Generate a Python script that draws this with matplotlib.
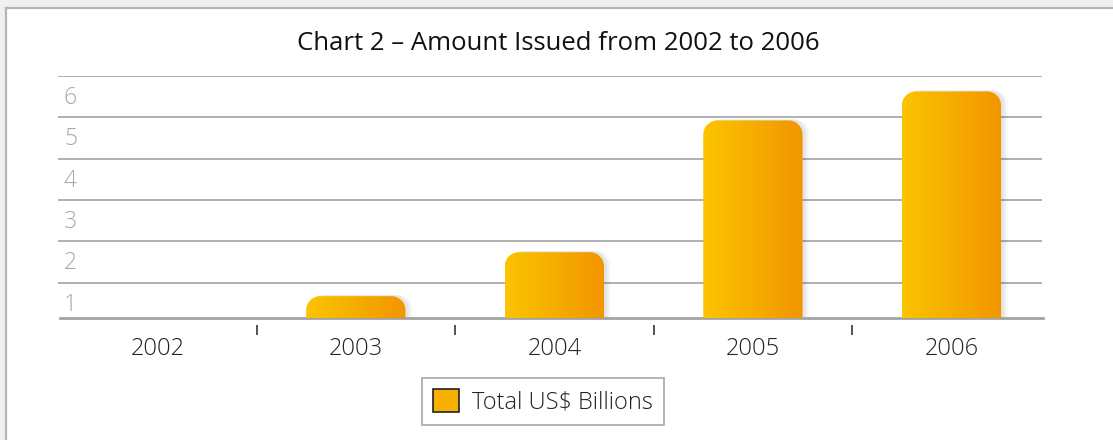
import numpy as np
import matplotlib
matplotlib.use("Agg")
import matplotlib.pyplot as plt
from matplotlib.path import Path
from matplotlib.patches import PathPatch, Rectangle, Patch
from matplotlib.lines import Line2D
import matplotlib.transforms as mtransforms

# data
years = ["2002", "2003", "2004", "2005", "2006"]
amounts = [0.0, 0.68, 1.74, 4.92, 5.62]
y_ticks = [1, 2, 3, 4, 5, 6]
title = "Chart 2 \u2013 Amount Issued from 2002 to 2006"
legend_label = "Total US$ Billions"

plt.rcParams['font.family'] = ['Open Sans', 'DejaVu Sans']

fig = plt.figure(figsize=(11.13, 4.40), dpi=100)
fig.patch.set_facecolor('white')

# page frame (light grey bands + border line)
fig.add_artist(Rectangle((0, 1 - 7 / 440), 1, 7 / 440, transform=fig.transFigure,
                         color='#eff1f1', lw=0))
fig.add_artist(Rectangle((0, 0), 5 / 1113, 1, transform=fig.transFigure,
                         color='#eff1f1', lw=0))
fig.add_artist(Line2D([5.5 / 1113, 1], [1 - 8 / 440, 1 - 8 / 440], transform=fig.transFigure,
                      color='#b4b4b4', lw=1.6))
fig.add_artist(Line2D([5.5 / 1113, 5.5 / 1113], [0, 1 - 8 / 440], transform=fig.transFigure,
                      color='#b4b4b4', lw=1.6))

ax = fig.add_axes([58 / 1113, 122.3 / 440, 984 / 1113, 242 / 440])
x = np.arange(len(years))
ax.set_xlim(-0.5, 4.456)
ax.set_ylim(0.16, 6.0)

for s in ['top', 'right', 'left']:
    ax.spines[s].set_visible(False)
ax.spines['bottom'].set_color('#a3a3a3')
ax.spines['bottom'].set_linewidth(2)
ax.spines['bottom'].set_bounds(-0.49, 4.46)

# gridlines at the value ticks, labels sit just below each line
ax.set_yticks(y_ticks)
ax.set_yticklabels([])
ax.tick_params(axis='y', length=0)
ax.grid(axis='y', color='#b0b0b0', lw=1.4)
ax.set_axisbelow(True)
ylab = mtransforms.blended_transform_factory(ax.transAxes, ax.transData)
for t in y_ticks:
    ax.text(0.006, t - 0.53, str(t), transform=ylab, ha='left', va='center',
            fontsize=16.5, color='#a8a8a8', fontweight='light')

# x ticks: labels at centres, small marks between categories
ax.set_xticks(x)
ax.set_xticklabels(years, fontsize=17, color='#222222', fontweight='light')
ax.tick_params(axis='x', which='major', length=0, pad=14)
ax.set_xticks(x[:-1] + 0.5, minor=True)
ax.tick_params(axis='x', which='minor', length=7, width=1.3, color='#444444',
                direction='out', pad=0)
for tl in ax.xaxis.get_minorticklines():
    tl.set_transform(tl.get_transform() + mtransforms.ScaledTranslation(0, -7 / 100, fig.dpi_scale_trans))

bars = ax.bar(x, amounts, width=0.5, color='none', lw=0)

# rounded top corners, radius in pixels
px_x = ax.transData.transform((1, 0))[0] - ax.transData.transform((0, 0))[0]
px_y = ax.transData.transform((0, 1))[1] - ax.transData.transform((0, 0))[1]
rx, ry = 14 / px_x, 14 / px_y

grad = np.linspace(0, 1, 256).reshape(1, -1)
cmap = matplotlib.colors.LinearSegmentedColormap.from_list(
    'gold', ['#fcc400', '#f6ad00', '#f29500'])

def rounded_path(x0, w, h, b=0.0):
    k = 0.55
    verts = [(x0, b), (x0, h - ry),
             (x0, h - ry + k * ry), (x0 + rx - k * rx, h), (x0 + rx, h),
             (x0 + w - rx, h),
             (x0 + w - rx + k * rx, h), (x0 + w, h - ry + k * ry), (x0 + w, h - ry),
             (x0 + w, b), (x0, b)]
    codes = [Path.MOVETO, Path.LINETO,
             Path.CURVE4, Path.CURVE4, Path.CURVE4,
             Path.LINETO,
             Path.CURVE4, Path.CURVE4, Path.CURVE4,
             Path.LINETO, Path.CLOSEPOLY]
    return Path(verts, codes)

for b in bars:
    h = b.get_height()
    if h <= 0:
        continue
    x0, w = b.get_x(), b.get_width()
    p = rounded_path(x0, w, h)
    # soft shadow on the right
    for i, off in enumerate([7, 5, 3]):
        tr = mtransforms.offset_copy(ax.transData, fig=fig, x=off, y=1, units='dots')
        ax.add_patch(PathPatch(p, transform=tr, facecolor='#000000', alpha=0.025 + 0.01 * i,
                               lw=0, zorder=2))
    patch = PathPatch(p, facecolor='none', lw=0, zorder=3)
    ax.add_patch(patch)
    im = ax.imshow(grad, cmap=cmap, extent=[x0, x0 + w, 0, h], aspect='auto', zorder=3)
    im.set_clip_path(patch)

ax.set_xlim(-0.5, 4.456)
ax.set_ylim(0.16, 6.0)

fig.text(0.502, 1 - 43 / 440, title, ha='center', va='center', fontsize=18.5,
         color='#111111')

leg = fig.legend(handles=[Patch(facecolor='#f7b000', edgecolor='#222222', lw=1.2,
                                label=legend_label)],
                 loc='center', bbox_to_anchor=(543 / 1113, 1 - 401.7 / 440),
                 fontsize=17, frameon=True, fancybox=False, handlelength=1.1,
                 handleheight=1.1, handletextpad=0.55, borderpad=0.45)
leg.get_frame().set_edgecolor('#9a9a9a')
leg.get_frame().set_linewidth(1.3)
for t in leg.get_texts():
    t.set_color('#222222')
    t.set_fontweight('light')

fig.savefig('out.png', dpi=100, facecolor='white')
